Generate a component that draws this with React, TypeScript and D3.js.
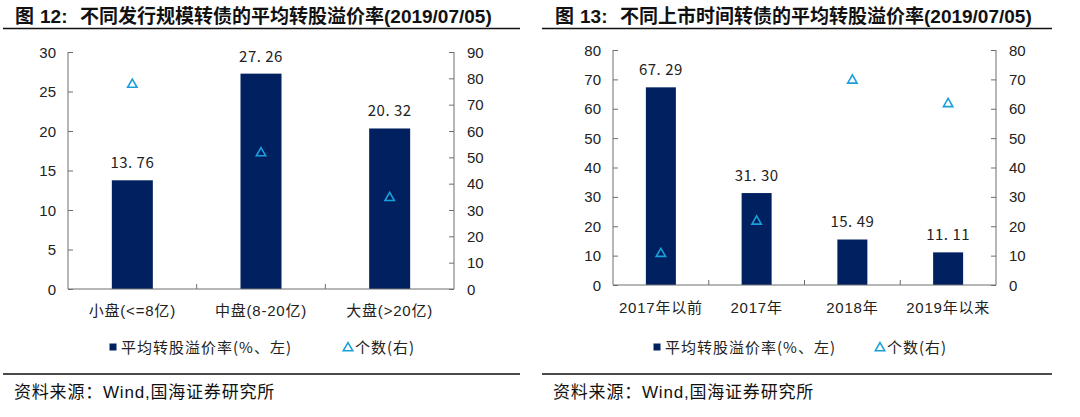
import React, { useEffect, useRef } from 'react'
import * as d3 from 'd3'

// 图12 数据
const sizeCategories = ['小盘(<=8亿)', '中盘(8-20亿)', '大盘(>20亿)']
const sizePremium = [13.76, 27.26, 20.32]
const sizeCount = [78, 52, 35]

// 图13 数据
const timeCategories = ['2017年以前', '2017年', '2018年', '2019年以来']
const timePremium = [67.29, 31.3, 15.49, 11.11]
const timeCount = [11, 22, 70, 62]

const leftTicks1 = [0, 5, 10, 15, 20, 25, 30]
const rightTicks1 = [0, 10, 20, 30, 40, 50, 60, 70, 80, 90]
const ticks2 = [0, 10, 20, 30, 40, 50, 60, 70, 80]

const BAR = '#002060'
const TRI = '#1a9fdb'
const AXIS = '#6e6e6e'
const CJK = '"Liberation Sans", "Noto Sans CJK SC", sans-serif'

interface PanelCfg {
  num: string
  title: string
  x0: number
  lineX0: number
  lineX1: number
  plotLeft: number
  plotRight: number
  plotTop: number
  plotBottom: number
  cats: string[]
  premium: number[]
  count: number[]
  leftMax: number
  rightMax: number
  leftTicks: number[]
  rightTicks: number[]
  barW: number
  catY: number
  legendSq: number
  legendTri: number
  srcX: number
}

const App = () => {
  const ref = useRef<SVGSVGElement>(null)

  useEffect(() => {
    const svg = d3.select(ref.current)
    svg.selectAll('*').remove()
    svg.append('rect').attr('width', 1080).attr('height', 417).attr('fill', '#fff')

    const panels: PanelCfg[] = [
      {
        num: '12:',
        title: '不同发行规模转债的平均转股溢价率(2019/07/05)',
        x0: 15, lineX0: 3, lineX1: 520,
        plotLeft: 68, plotRight: 454, plotTop: 52, plotBottom: 289,
        cats: sizeCategories, premium: sizePremium, count: sizeCount,
        leftMax: 30, rightMax: 90, leftTicks: leftTicks1, rightTicks: rightTicks1,
        barW: 41, catY: 316, legendSq: 113, legendTri: 348, srcX: 14,
      },
      {
        num: '13:',
        title: '不同上市时间转债的平均转股溢价率(2019/07/05)',
        x0: 555, lineX0: 542, lineX1: 1052,
        plotLeft: 613, plotRight: 996, plotTop: 50, plotBottom: 285,
        cats: timeCategories, premium: timePremium, count: timeCount,
        leftMax: 80, rightMax: 80, leftTicks: ticks2, rightTicks: ticks2,
        barW: 30, catY: 313, legendSq: 657, legendTri: 880, srcX: 553,
      },
    ]

    panels.forEach((p) => {
      const g = svg.append('g')

      // title
      const tt = g.append('g')
        .attr('font-family', CJK)
        .attr('font-weight', 'bold')
        .attr('font-size', 19)
        .attr('fill', '#111')
      tt.append('text').attr('x', p.x0).attr('y', 23).text('图')
      tt.append('text').attr('x', p.x0 + 25).attr('y', 23).text(p.num)
      tt.append('text').attr('x', p.x0 + 65).attr('y', 23).text(p.title)
      g.append('line')
        .attr('x1', p.lineX0).attr('x2', p.lineX1)
        .attr('y1', 28.5).attr('y2', 28.5)
        .attr('stroke', '#111').attr('stroke-width', 1.5)

      const x = d3.scaleBand().domain(p.cats).range([p.plotLeft, p.plotRight]).padding(0)
      const yL = d3.scaleLinear().domain([0, p.leftMax]).range([p.plotBottom, p.plotTop])
      const yR = d3.scaleLinear().domain([0, p.rightMax]).range([p.plotBottom, p.plotTop])

      // left axis
      const axL = g.append('g')
        .attr('transform', `translate(${p.plotLeft},0)`)
        .call(d3.axisRight(yL).tickValues(p.leftTicks).tickSize(5).tickFormat(() => ''))
      axL.select('.domain').attr('d', `M0,${p.plotTop}V${p.plotBottom}`)
      axL.selectAll('line,path').attr('stroke', AXIS)
      g.append('g')
        .selectAll('text')
        .data(p.leftTicks)
        .enter()
        .append('text')
        .attr('x', p.plotLeft - 12)
        .attr('y', (d) => yL(d) + 5.5)
        .attr('text-anchor', 'end')
        .attr('font-family', CJK)
        .attr('font-size', 15)
        .attr('fill', '#222')
        .text((d) => d)

      // right axis
      const axR = g.append('g')
        .attr('transform', `translate(${p.plotRight},0)`)
        .call(d3.axisLeft(yR).tickValues(p.rightTicks).tickSize(5).tickFormat(() => ''))
      axR.select('.domain').attr('d', `M0,${p.plotTop}V${p.plotBottom}`)
      axR.selectAll('line,path').attr('stroke', AXIS)
      g.append('g')
        .selectAll('text')
        .data(p.rightTicks)
        .enter()
        .append('text')
        .attr('x', p.plotRight + 13)
        .attr('y', (d) => yR(d) + 5.5)
        .attr('text-anchor', 'start')
        .attr('font-family', CJK)
        .attr('font-size', 15)
        .attr('fill', '#222')
        .text((d) => d)

      // bars
      g.append('g')
        .selectAll('rect')
        .data(p.premium)
        .enter()
        .append('rect')
        .attr('x', (_, i) => (x(p.cats[i]) as number) + x.bandwidth() / 2 - p.barW / 2)
        .attr('y', (d) => yL(d))
        .attr('width', p.barW)
        .attr('height', (d) => p.plotBottom - yL(d))
        .attr('fill', BAR)

      // bottom axis
      g.append('line')
        .attr('x1', p.plotLeft).attr('x2', p.plotRight)
        .attr('y1', p.plotBottom).attr('y2', p.plotBottom)
        .attr('stroke', AXIS)
      g.append('g')
        .selectAll('line')
        .data(p.cats.slice(1))
        .enter()
        .append('line')
        .attr('x1', (d) => x(d) as number)
        .attr('x2', (d) => x(d) as number)
        .attr('y1', p.plotBottom)
        .attr('y2', p.plotBottom - 5)
        .attr('stroke', AXIS)

      // data labels
      g.append('g')
        .selectAll('text')
        .data(p.premium)
        .enter()
        .append('text')
        .attr('x', (_, i) => (x(p.cats[i]) as number) + x.bandwidth() / 2)
        .attr('y', (d) => yL(d) - 12)
        .attr('text-anchor', 'middle')
        .attr('font-family', '"Noto Sans CJK SC", sans-serif')
        .attr('font-size', 15)
        .attr('letter-spacing', 0.5)
        .attr('fill', '#222')
        .text((d) => d.toFixed(2).replace('.', '. '))

      // triangles
      const tri = d3.symbol().type(d3.symbolTriangle).size(38)
      g.append('g')
        .selectAll('path')
        .data(p.count)
        .enter()
        .append('path')
        .attr('d', tri)
        .attr('transform', (d, i) => `translate(${(x(p.cats[i]) as number) + x.bandwidth() / 2},${yR(d) + 1})`)
        .attr('fill', 'none')
        .attr('stroke', TRI)
        .attr('stroke-width', 1.6)

      // category labels
      g.append('g')
        .selectAll('text')
        .data(p.cats)
        .enter()
        .append('text')
        .attr('x', (d) => (x(d) as number) + x.bandwidth() / 2)
        .attr('y', p.catY)
        .attr('text-anchor', 'middle')
        .attr('font-family', CJK)
        .attr('font-size', 15)
        .attr('letter-spacing', 0.8)
        .attr('fill', '#222')
        .text((d) => d)

      // legend
      g.append('rect')
        .attr('x', p.legendSq - 3.5).attr('y', 343.5)
        .attr('width', 7).attr('height', 7)
        .attr('fill', BAR)
      g.append('text')
        .attr('x', p.legendSq + 8).attr('y', 352.5)
        .attr('font-family', '"Noto Sans CJK SC", sans-serif')
        .attr('font-size', 15)
        .attr('letter-spacing', 1)
        .attr('fill', '#222')
        .text('平均转股溢价率(%、左)')
      g.append('path')
        .attr('d', tri)
        .attr('transform', `translate(${p.legendTri},348)`)
        .attr('fill', 'none')
        .attr('stroke', TRI)
        .attr('stroke-width', 1.6)
      g.append('text')
        .attr('x', p.legendTri + 7).attr('y', 352.5)
        .attr('font-family', '"Noto Sans CJK SC", sans-serif')
        .attr('font-size', 15)
        .attr('letter-spacing', 1)
        .attr('fill', '#222')
        .text('个数(右)')

      // source
      g.append('line')
        .attr('x1', p.lineX0).attr('x2', p.lineX1)
        .attr('y1', 374).attr('y2', 374)
        .attr('stroke', '#111').attr('stroke-width', 1.5)
      g.append('text')
        .attr('x', p.srcX).attr('y', 398)
        .attr('font-family', CJK)
        .attr('font-size', 17)
        .attr('letter-spacing', 0.8)
        .attr('fill', '#111')
        .text('资料来源：Wind,国海证券研究所')
    })
  })

  return (
    <svg
      ref={ref}
      width={1080}
      height={417}
      style={{ position: 'absolute', left: 0, top: 0 }}
    />
  )
}

export default App
